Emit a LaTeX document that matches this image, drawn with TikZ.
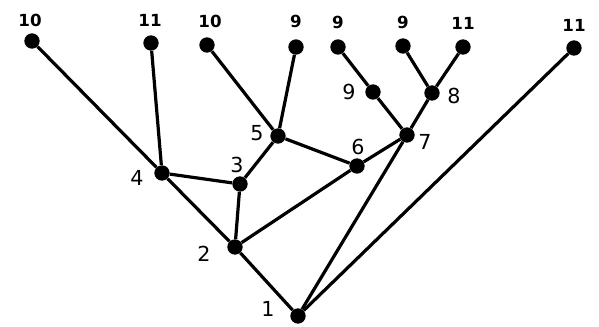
\documentclass[tikz,border=0pt]{standalone}
\usepackage{fontspec}
\setmainfont{DejaVu Sans}
\begin{document}
\begin{tikzpicture}[x=0.75pt,y=-0.75pt,
  dot/.style={circle,fill=black,inner sep=0pt,minimum size=11.5pt},
  lbl/.style={font=\fontsize{15.5}{15.5}\selectfont},
  toplbl/.style={font=\bfseries\fontsize{12.5}{12.5}\selectfont},
  edge/.style={line width=2.4pt}]
\useasboundingbox (0,0) rectangle (599,327);
\node[dot] (a10) at (32,41) {};
\node[dot] (b11) at (151,43) {};
\node[dot] (c10) at (207,45) {};
\node[dot] (d9) at (296,47) {};
\node[dot] (e9) at (338,47) {};
\node[dot] (f9) at (403,46) {};
\node[dot] (g11) at (463,47) {};
\node[dot] (h11) at (574,48) {};
\node[dot] (n9) at (373,92) {};
\node[dot] (n8) at (432,93) {};
\node[dot] (n5) at (278,136) {};
\node[dot] (n7) at (407,135) {};
\node[dot] (n6) at (357,166) {};
\node[dot] (n4) at (162,173) {};
\node[dot] (n3) at (240,184) {};
\node[dot] (n2) at (235,247) {};
\node[dot] (n1) at (298,316) {};
\node[toplbl] (la10) at (30,20) {10};
\node[toplbl] (lb11) at (150,20) {11};
\node[toplbl] (lc10) at (210,21) {10};
\node[toplbl] (ld9) at (296,21) {9};
\node[toplbl] (le9) at (338,22) {9};
\node[toplbl] (lf9) at (403,22) {9};
\node[toplbl] (lg11) at (463,23) {11};
\node[toplbl] (lh11) at (574,25) {11};
\node[lbl] (ln9) at (349,92) {9};
\node[lbl] (ln8) at (454,96) {8};
\node[lbl] (ln5) at (257,133) {5};
\node[lbl] (ln7) at (425,142) {7};
\node[lbl] (ln6) at (358,147) {6};
\node[lbl] (ln4) at (137,178) {4};
\node[lbl] (ln3) at (237,165) {3};
\node[lbl] (ln2) at (204,254) {2};
\node[lbl] (ln1) at (268,309) {1};
\draw[edge] (a10) -- (n4) -- (n2) -- (n1);
\draw[edge] (b11) -- (n4);
\draw[edge] (n4) -- (n3);
\draw[edge] (n3) -- (n2);
\draw[edge] (n3) -- (n5);
\draw[edge] (c10) -- (n5);
\draw[edge] (d9) -- (n5);
\draw[edge] (n5) -- (n6);
\draw[edge] (n2) -- (n6);
\draw[edge] (n6) -- (n7);
\draw[edge] (n7) -- (n1);
\draw[edge] (h11) -- (n1);
\draw[edge] (n7) -- (n9);
\draw[edge] (n9) -- (e9);
\draw[edge] (n7) -- (n8);
\draw[edge] (n8) -- (f9);
\draw[edge] (n8) -- (g11);
\end{tikzpicture}
\end{document}
